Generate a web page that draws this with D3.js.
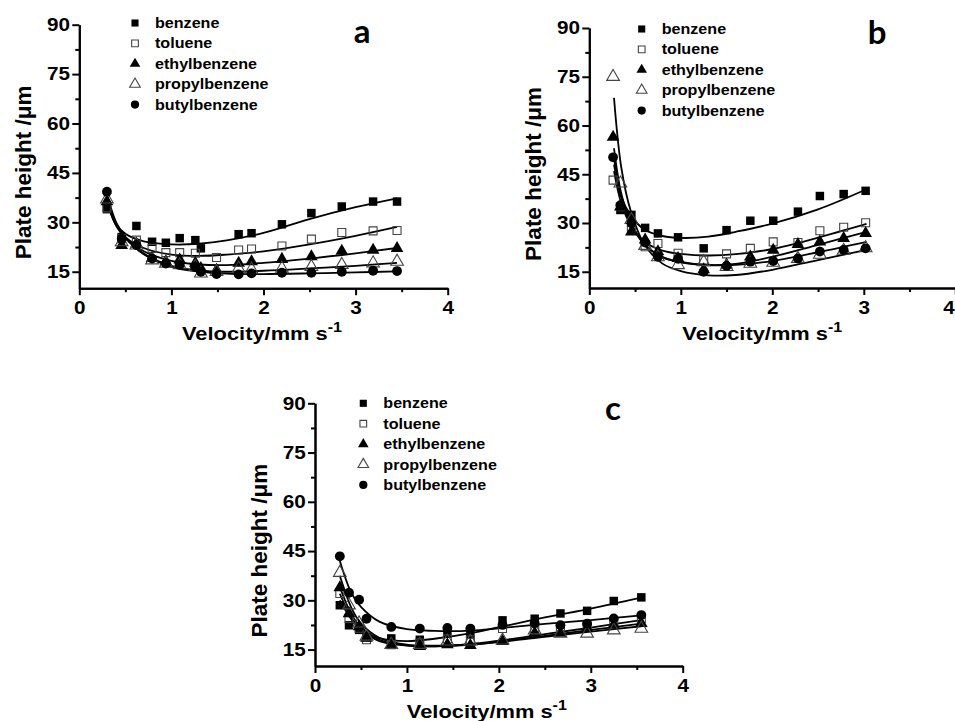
<!DOCTYPE html>
<html lang="en">
<head>
<meta charset="UTF-8">
<title>Plate height vs velocity</title>
<script src="https://cdn.jsdelivr.net/npm/d3@7"></script>
<style>
body { margin: 0; background: #fff; }
</style>
</head>
<body>
<svg></svg>
<script>
var names = ['benzene', 'toluene', 'ethylbenzene', 'propylbenzene', 'butylbenzene'];
var xMajor = [0, 1, 2, 3, 4];
var xMinor = [0.5, 1.5, 2.5, 3.5];
var yMajor = [15, 30, 45, 60, 75, 90];
var yMinor = [22.5, 37.5, 52.5, 67.5, 82.5];

// panel a - measured points
var velA      = [0.30, 0.46, 0.62, 0.79, 0.94, 1.09, 1.26, 1.32, 1.49, 1.73, 1.87, 2.20, 2.52, 2.85, 3.19, 3.45];
var benzeneA  = [34.0, 25.5, 28.9, 24.1, 23.8, 25.2, 24.6, 22.1, null, 26.4, 26.7, 29.4, 32.8, 34.8, 36.3, 36.3];
var tolueneA  = [34.4, 25.0, 24.6, 22.1, 20.8, 20.8, 20.6, null, 19.3, 21.6, 21.9, 22.8, 24.9, 26.9, 27.4, 27.5];
var ethylA    = [36.3, 23.0, 23.5, 19.1, 18.1, 18.6, 17.6, 16.0, 15.5, 17.6, 18.1, 18.8, 19.6, 21.3, 21.6, 22.1];
var propylA   = [37.0, 24.0, 23.0, 18.5, 17.5, 17.0, 16.5, 14.5, 15.0, 16.0, 15.7, 16.0, 16.5, 17.1, 17.6, 18.1];
var butylA    = [39.3, 25.0, 23.1, 19.0, 17.5, 17.1, 16.5, 15.0, 14.3, 14.2, 14.5, 14.7, 14.7, 15.0, 15.3, 15.2];
// panel a - fitted curves
var fitVelA     = [0.30, 0.40, 0.50, 0.70, 1.00, 1.30, 1.60, 2.00, 2.50, 3.00, 3.45];
var fitBenzeneA = [36.0, 29.5, 26.5, 24.2, 23.3, 23.5, 24.5, 26.8, 31.0, 34.6, 37.3];
var fitTolueneA = [36.0, 29.0, 25.5, 22.2, 20.2, 19.8, 20.2, 21.2, 23.3, 25.9, 28.6];
var fitEthylA   = [36.5, 29.0, 25.2, 21.2, 18.3, 17.2, 17.0, 17.7, 19.0, 20.6, 22.2];
var fitPropylA  = [37.0, 29.5, 25.3, 20.5, 16.8, 15.4, 15.0, 15.3, 16.0, 16.8, 17.7];
var fitButylA   = [38.5, 30.0, 25.5, 20.3, 16.5, 15.0, 14.4, 14.3, 14.5, 14.8, 15.1];

// panel b
var velB      = [0.26, 0.34, 0.46, 0.61, 0.75, 0.97, 1.25, 1.50, 1.76, 2.01, 2.28, 2.52, 2.78, 3.02];
var benzeneB  = [null, 34.0, 32.5, 28.5, 26.8, 25.6, 22.2, 27.8, 30.7, 30.7, 33.5, 38.3, 38.9, 39.9];
var tolueneB  = [43.2, 35.0, 27.8, 22.7, 23.7, 20.7, 18.6, 20.5, 22.2, 24.2, 24.0, 27.6, 28.7, 30.1];
var ethylB    = [56.4, 35.0, 27.3, 24.8, 21.2, 19.1, 15.7, 17.1, 19.6, 21.7, 23.4, 24.2, 25.3, 26.8];
var propylB   = [75.0, 42.2, 31.0, 23.0, 19.5, 17.1, 18.0, 16.5, 17.5, 17.8, 19.0, 20.3, 21.5, 22.3];
var butylB    = [50.2, 35.5, 29.9, 24.0, 19.6, 19.0, 15.0, 16.8, 18.1, 18.3, 19.1, 21.2, 21.7, 22.2];
var fitVelB     = [0.27, 0.35, 0.45, 0.60, 0.80, 1.00, 1.30, 1.60, 2.00, 2.50, 3.03];
var fitBenzeneB = [48.0, 38.0, 32.5, 28.0, 26.0, 25.4, 25.8, 27.3, 29.8, 34.2, 40.4];
var fitTolueneB = [46.0, 36.0, 29.5, 24.3, 21.5, 20.5, 20.0, 20.4, 22.0, 25.5, 29.7];
var fitEthylB   = [53.0, 39.0, 30.5, 23.5, 19.5, 18.0, 17.1, 17.4, 19.6, 23.3, 27.3];
var fitPropylB  = [68.5, 47.0, 34.0, 23.5, 17.5, 15.2, 13.9, 14.0, 15.6, 18.6, 21.7];
var fitButylB   = [50.0, 38.0, 30.0, 23.5, 19.5, 17.9, 17.0, 17.1, 18.3, 21.0, 24.2];

// panel c
var velC      = [0.27, 0.37, 0.48, 0.56, 0.83, 1.14, 1.44, 1.69, 2.04, 2.39, 2.67, 2.96, 3.25, 3.55];
var benzeneC  = [28.5, 22.4, 21.0, 18.8, 18.4, 18.0, 19.9, 19.6, 23.9, 24.4, 26.0, 26.8, 29.8, 30.9];
var tolueneC  = [32.1, 24.5, 21.5, 18.0, 16.5, 17.0, 18.2, 17.9, 21.4, 21.4, 21.9, 22.2, 23.4, 24.4];
var ethylC    = [33.9, 26.0, 22.0, 18.5, 16.3, 16.0, 16.5, 16.3, 17.5, 20.0, 20.0, 21.5, 22.5, 23.0];
var propylC   = [38.4, 28.5, 23.0, 19.0, 16.5, 16.5, 17.5, 17.5, 17.8, 20.9, 19.9, 19.9, 20.9, 21.4];
var butylC    = [43.4, 32.3, 30.2, 24.4, 21.9, 21.4, 21.6, 21.4, 22.5, 23.0, 22.4, 22.9, 24.5, 25.5];
var fitVelC     = [0.27, 0.40, 0.50, 0.70, 1.00, 1.30, 1.70, 2.00, 2.50, 3.00, 3.55];
var fitBenzeneC = [30.0, 24.0, 21.0, 18.5, 17.6, 18.3, 20.0, 21.8, 24.8, 27.5, 30.8];
var fitTolueneC = [32.0, 24.5, 21.0, 17.6, 16.2, 16.0, 16.7, 17.7, 19.7, 21.7, 24.0];
var fitEthylC   = [34.0, 25.5, 21.8, 18.0, 16.3, 16.0, 16.5, 17.4, 19.2, 21.0, 22.9];
var fitPropylC  = [37.5, 27.5, 23.0, 18.6, 16.5, 16.2, 16.6, 17.3, 18.9, 20.5, 22.1];
var fitButylC   = [42.0, 32.0, 28.0, 23.5, 21.2, 20.7, 20.8, 21.5, 22.8, 24.0, 25.4];

var panels = [
    {letter: 'a', vel: velA, pts: [benzeneA, tolueneA, ethylA, propylA, butylA],
     fitVel: fitVelA, fits: [fitBenzeneA, fitTolueneA, fitEthylA, fitPropylA, fitButylA],
     x0: 79.3, x1: 447.7, yTop: 24.7, yBot: 288.2,
     legX: 135, legY: 23, letterX: 362, letterY: 43, titleDx: -1.5, edgeShift: 0},
    {letter: 'b', vel: velB, pts: [benzeneB, tolueneB, ethylB, propylB, butylB],
     fitVel: fitVelB, fits: [fitBenzeneB, fitTolueneB, fitEthylB, fitPropylB, fitButylB],
     x0: 589.3, x1: 955.3, yTop: 28, yBot: 288,
     legX: 641.7, legY: 29, letterX: 877, letterY: 44, titleDx: -10, edgeShift: -6},
    {letter: 'c', vel: velC, pts: [benzeneC, tolueneC, ethylC, propylC, butylC],
     fitVel: fitVelC, fits: [fitBenzeneC, fitTolueneC, fitEthylC, fitPropylC, fitButylC],
     x0: 315, x1: 682.7, yTop: 403.3, yBot: 666,
     legX: 363.3, legY: 403.3, letterX: 613, letterY: 420, titleDx: -12, edgeShift: 0}
];

var shapes = [d3.symbolSquare, d3.symbolSquare, d3.symbolTriangle, d3.symbolTriangle, d3.symbolCircle];
var filled = [true, false, true, false, true];
var sizes = [72, 64, 70, 70, 76];
var FONT = '"Liberation Sans", Arial, sans-serif';
var STRETCH = 1.15;   // the original figure is a little wider than tall

var svg = d3.select('svg').attr('width', 955).attr('height', 721);

function styleMarker(sel, i) {
    sel.attr('fill', filled[i] ? '#000' : 'none')
       .attr('stroke', filled[i] ? 'none' : '#444')
       .attr('stroke-width', 1.1);
}

panels.forEach(function (p) {
    var x = d3.scaleLinear().domain([0, 4]).range([p.x0, p.x1]);
    var y = d3.scaleLinear().domain([10, 90]).range([p.yBot, p.yTop]);
    var g = svg.append('g');

    // minor ticks
    g.append('g').attr('transform', 'translate(0,' + p.yBot + ')')
        .call(d3.axisBottom(x).tickValues(xMinor).tickSize(4).tickSizeOuter(0).tickFormat(''));
    g.append('g').attr('transform', 'translate(' + p.x0 + ',0)')
        .call(d3.axisLeft(y).tickValues(yMinor).tickSize(4).tickSizeOuter(0).tickFormat(''));

    // major ticks + labels
    var xa = g.append('g').attr('transform', 'translate(0,' + p.yBot + ')')
        .call(d3.axisBottom(x).tickValues(xMajor).tickSize(7).tickSizeOuter(0).tickPadding(6)
              .tickFormat(d3.format('d')));
    var ya = g.append('g').attr('transform', 'translate(' + p.x0 + ',0)')
        .call(d3.axisLeft(y).tickValues(yMajor).tickSize(7).tickSizeOuter(0).tickPadding(1)
              .tickFormat(d3.format('d')));

    g.selectAll('.domain, .tick line').attr('stroke', '#000').attr('stroke-width', 2);
    [xa, ya].forEach(function (a) {
        a.attr('font-family', FONT).attr('font-size', 18).attr('font-weight', 'bold');
        a.selectAll('text').attr('fill', '#000').attr('transform', 'scale(' + STRETCH + ',1)');
    });
    // last x label sits on the page edge in panel b
    xa.selectAll('text').filter(function (d) { return d === 4; }).attr('dx', p.edgeShift);

    // fitted curves
    var line = d3.line()
        .x(function (d) { return x(d[0]); })
        .y(function (d) { return y(d[1]); })
        .curve(d3.curveCatmullRom.alpha(0.5));
    p.fits.forEach(function (f) {
        g.append('path')
            .datum(p.fitVel.map(function (v, i) { return [v, f[i]]; }))
            .attr('d', line)
            .attr('fill', 'none')
            .attr('stroke', '#000')
            .attr('stroke-width', 1.8);
    });

    // data points
    p.pts.forEach(function (vals, si) {
        var data = p.vel.map(function (v, i) { return [v, vals[i]]; })
                        .filter(function (d) { return d[1] != null; });
        g.selectAll(null).data(data).enter().append('path')
            .attr('d', d3.symbol().type(shapes[si]).size(sizes[si]))
            .attr('transform', function (d) { return 'translate(' + x(d[0]) + ',' + y(d[1]) + ')'; })
            .call(styleMarker, si);
    });

    // legend
    names.forEach(function (n, i) {
        var ly = p.legY + i * 20.4;
        g.append('path')
            .attr('d', d3.symbol().type(shapes[i]).size(sizes[i] * 0.7))
            .attr('transform', 'translate(' + p.legX + ',' + ly + ')')
            .call(styleMarker, i);
        g.append('text')
            .attr('transform', 'translate(' + (p.legX + 20) + ',' + (ly + 5) + ') scale(' + STRETCH + ',1)')
            .attr('font-family', FONT).attr('font-size', 14).attr('font-weight', 'bold')
            .text(n);
    });

    // panel letter
    g.append('text')
        .attr('x', p.letterX).attr('y', p.letterY)
        .attr('text-anchor', 'middle')
        .attr('font-family', 'Lato, "Open Sans", sans-serif')
        .attr('font-size', 33).attr('font-weight', 'bold')
        .text(p.letter);

    // axis titles
    var xt = g.append('text')
        .attr('transform', 'translate(' + ((p.x0 + p.x1) / 2 + p.titleDx) + ',' + (p.yBot + 52) + ') scale(' + STRETCH + ',1)')
        .attr('text-anchor', 'middle')
        .attr('font-family', FONT).attr('font-size', 19).attr('font-weight', 'bold');
    xt.append('tspan').text('Velocity/mm s');
    xt.append('tspan').attr('dy', -8).attr('font-size', 14).text('-1');

    g.append('text')
        .attr('transform', 'translate(' + (p.x0 - 48) + ',' + ((p.yTop + p.yBot) / 2 + 16) + ') rotate(-90)')
        .attr('text-anchor', 'middle')
        .attr('font-family', FONT).attr('font-size', 22.5).attr('font-weight', 'bold')
        .text('Plate height /\u03bcm');
});
</script>
</body>
</html>
